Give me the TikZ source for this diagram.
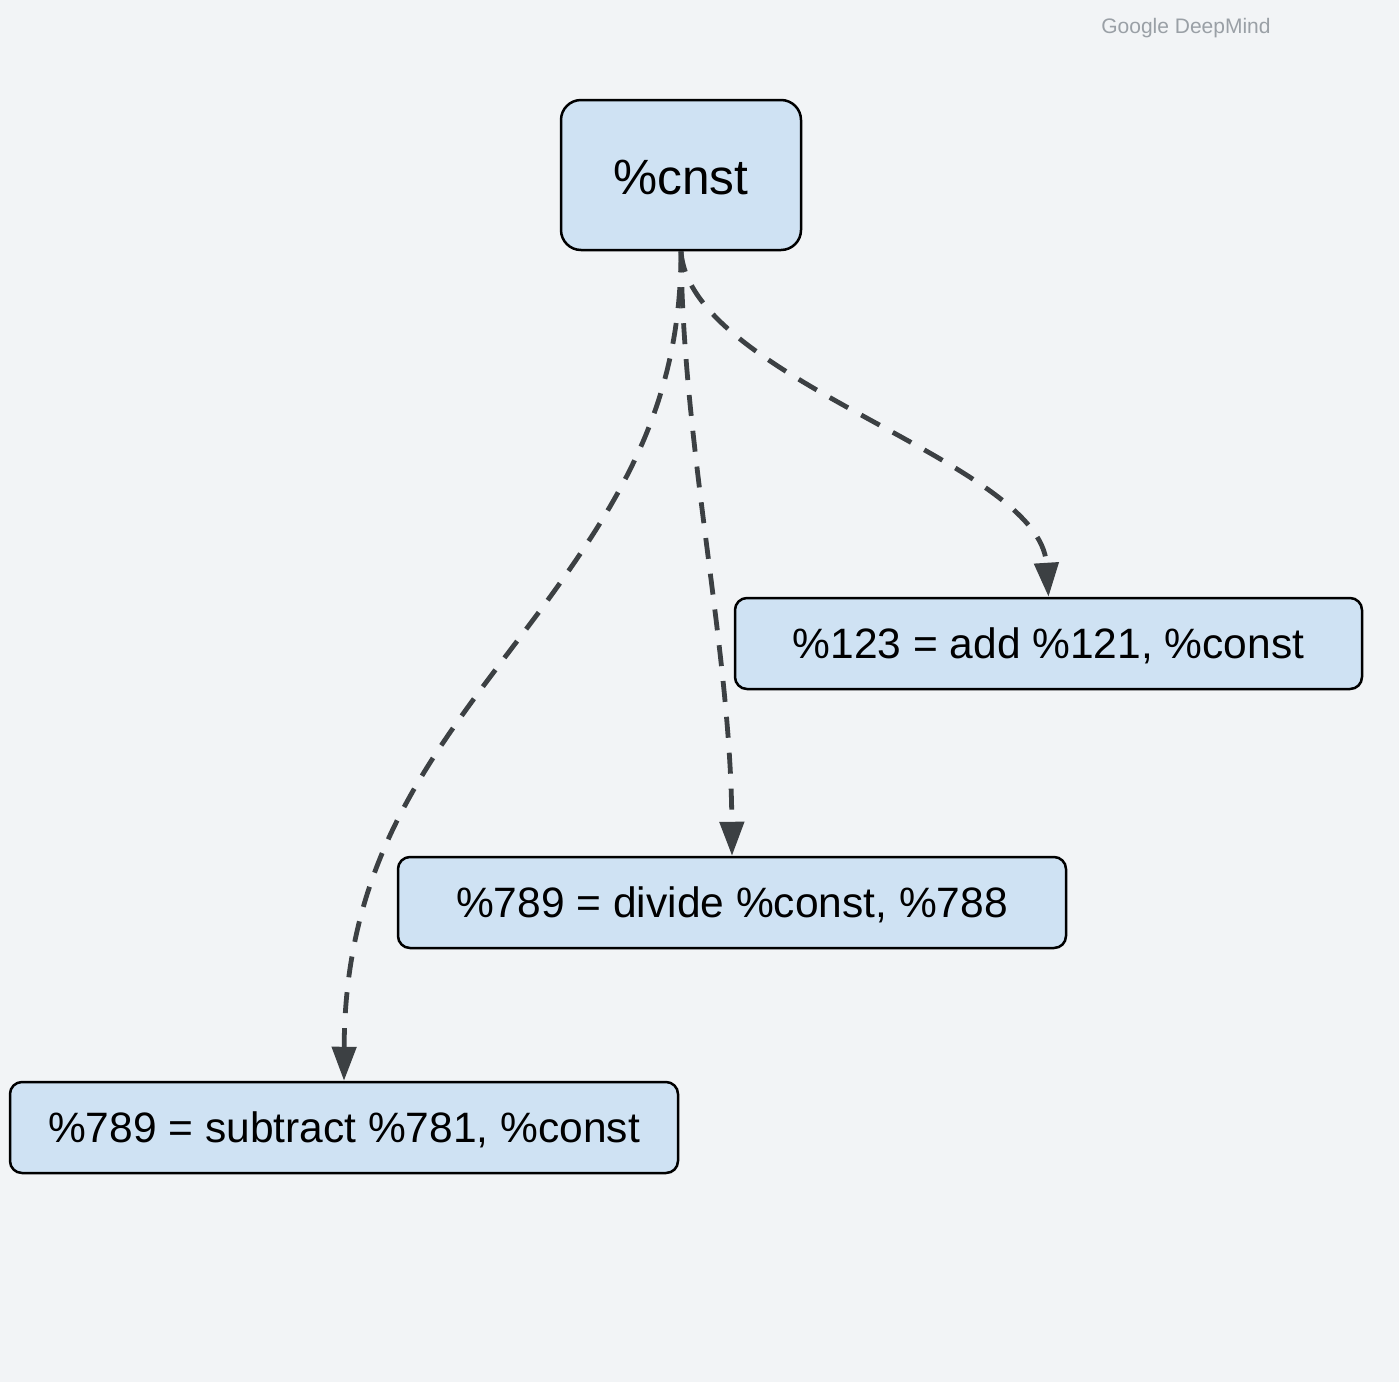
\documentclass[tikz,border=0pt]{standalone}
\usepackage{fontspec}
\setmainfont{Liberation Sans}
\usetikzlibrary{arrows.meta}
\definecolor{bgc}{HTML}{F2F4F6}
\definecolor{boxc}{HTML}{CFE2F3}
\definecolor{edgec}{HTML}{3C4043}
\definecolor{wmc}{HTML}{9AA0A6}
\newcommand{\lowtext}[1]{\raisebox{-2.5pt}[\height][\depth]{#1}}
\tikzset{
  opbox/.style={draw=black, fill=boxc, line width=2.5pt, rounded corners=12pt,
    minimum height=91pt, inner sep=0pt, font=\fontsize{42.5}{50}\selectfont},
  topbox/.style={opbox, rounded corners=20pt, minimum width=240pt, minimum height=150pt,
    font=\fontsize{49.6}{58}\selectfont},
  flow/.style={draw=edgec, line width=4.8pt, dash pattern=on 21pt off 15pt,
    -{Triangle[length=34pt,width=24pt]}}
}
\begin{document}
\begin{tikzpicture}[x=1pt,y=-1pt]
\fill[bgc] (0,0) rectangle (1399,1382);
\useasboundingbox (0,0) rectangle (1399,1382);
\node[text=wmc, font=\fontsize{21}{25}\selectfont] (wm) at (1186,28) {Google DeepMind};
\node[topbox] (cnst) at (681,175) {\lowtext{\%cnst}};
\node[opbox, minimum width=627pt] (add) at (1048.5,643.5) {\lowtext{\%123 = add \%121, \%const}};
\node[opbox, minimum width=668pt] (div) at (732,902.5) {\lowtext{\%789 = divide \%const, \%788}};
\node[opbox, minimum width=668pt] (sub) at (344,1127.5) {\lowtext{\%789 = subtract \%781, \%const}};
\draw[flow] (cnst.south) .. controls (690,380) and (1040,460) .. (add.north);
\draw[flow] (cnst.south) .. controls (683,450) and (731,650) .. (div.north);
\coordinate (mid) at (542,608);
\draw[flow] (cnst.south) .. controls (681,400) and (624,496) .. (mid)
  .. controls (440,745) and (345,850) .. (sub.north);
\end{tikzpicture}
\end{document}
